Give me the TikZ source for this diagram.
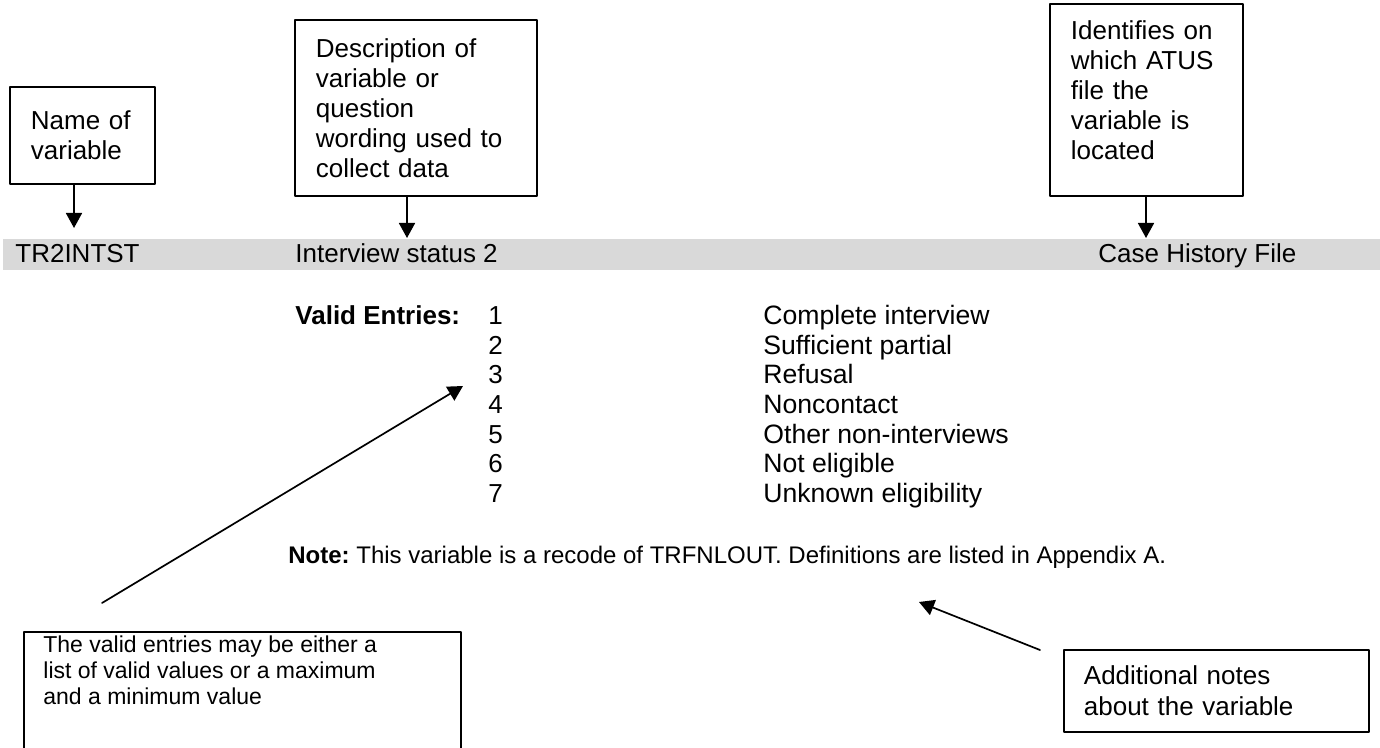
\documentclass[tikz,border=0pt]{standalone}
\usepackage{fontspec}
\setmainfont{Liberation Sans}
\usetikzlibrary{arrows.meta}
\definecolor{barcolor}{RGB}{217,217,217}

\begin{document}
\begin{tikzpicture}[x=0.5pt, y=-0.5pt, line cap=round, line join=round, >={Triangle[length=7.5pt,width=8pt]},
  callout/.style={draw, line width=0.9pt, anchor=north west, align=left, inner ysep=0pt, font=\fontsize{13}{15}\selectfont},
  entry/.style={anchor=base west, inner sep=0pt, font=\fontsize{13}{15}\selectfont}]

\useasboundingbox (0,0) rectangle (1380,748);

% the grey header line of the entry
\fill[barcolor] (3,239) rectangle (1380,270);
\node[entry] (varname) at (15,263) {TR2INTST};
\node[entry] (vardesc) at (295,263) {Interview status 2};
\node[entry] (varfile) at (1098,263) {Case History File};

% callouts on top
\node[callout, inner xsep=10.5pt, text width=51.5pt, minimum height=48.5pt] (namebox) at (9,86) {Name of\\variable};
\node[callout, inner xsep=10.5pt, text width=100pt, minimum height=88pt] (descbox) at (294,19) {Description of\\variable or\\question\\wording used to\\collect data};
\node[callout, inner xsep=10.5pt, text width=75.5pt, minimum height=96pt, text depth=70pt] (filebox) at (1049,3) {Identifies on\\which ATUS\\file the\\variable is\\located};

\coordinate (namept) at (74,228);
\coordinate (descpt) at (407,238);
\coordinate (filept) at (1146,238);
\draw[->, line width=0.85pt] (namebox.south -| namept) -- (namept);
\draw[->, line width=0.85pt] (descbox.south -| descpt) -- (descpt);
\draw[->, line width=0.85pt] (filebox.south -| filept) -- (filept);

% valid entries
\node[entry, font=\fontsize{13}{15}\selectfont\bfseries] (validlbl) at (295,325) {Valid Entries:};
\foreach \n/\lab in {1/Complete interview, 2/Sufficient partial, 3/Refusal, 4/Noncontact, 5/Other non-interviews, 6/Not eligible, 7/Unknown eligibility}{
  \node[entry] (num\n) at (488, 295.5+29.5*\n) {\n};
  \node[entry, font=\fontsize{13.3}{15}\selectfont] (lab\n) at (763, 295.5+29.5*\n) {\lab};
}

\node[entry, font=\fontsize{12}{15}\selectfont] (notetxt) at (288,563) {\textbf{Note:}\ This variable is a recode of TRFNLOUT. Definitions are listed in Appendix A.};

% callouts below
\draw[line width=0.9pt] (24,760) |- (461,632) -- (461,760);
\node[anchor=north west, inner sep=0pt, align=left, font=\fontsize{11.5}{13}\selectfont] (rangetxt) at (43,635) {The valid entries may be either a\\list of valid values or a maximum\\and a minimum value};
\node[callout, inner xsep=10pt, text width=132.5pt, minimum height=41pt, font=\fontsize{13}{15.5}\selectfont] (notebox) at (1063,649) {Additional notes\\about the variable};

\coordinate (rangefoot) at (102,603);
\coordinate (rangetip) at (463,386);
\coordinate (notefoot) at (1040,650);
\coordinate (notetip) at (919,602);
\draw[->, line width=0.85pt] (rangefoot) -- (rangetip);
\draw[->, line width=0.85pt] (notefoot) -- (notetip);

\end{tikzpicture}
\end{document}
